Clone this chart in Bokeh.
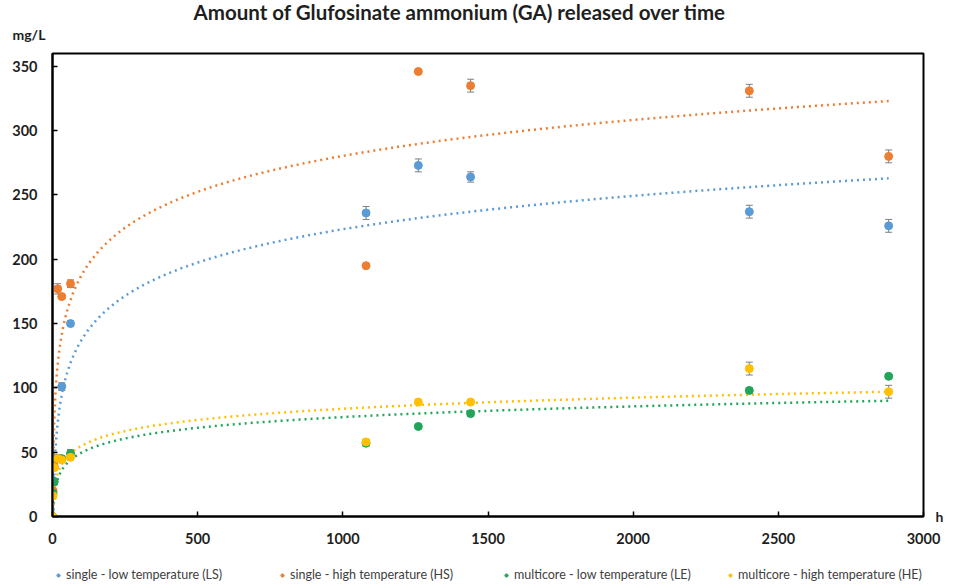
import numpy as np
from bokeh.plotting import figure
from bokeh.layouts import column
from bokeh.models import (Range1d, Whisker, TeeHead, ColumnDataSource, Title,
                          Legend, LegendItem, FixedTicker, LinearAxis)
from bokeh.embed import file_html
from bokeh.resources import INLINE

# ---- data ----
hours = [0, 2, 6, 18, 32, 62, 1080, 1260, 1440, 2400, 2880]

ls_vals = [0, 28, 43, 45, 101, 150, 236, 273, 264, 237, 226]
ls_err = [0, 1, 2, 2, 3, 2, 5, 5, 4, 5, 5]
hs_vals = [0, 20, 39, 177, 171, 181, 195, 346, 335, 331, 280]
hs_err = [0, 1, 2, 4, 1, 3, 0, 0, 5, 5, 5]
le_vals = [0, 18, 27, 45, 45, 49, 57, 70, 80, 98, 109]
le_err = [0, 1, 1, 2, 2, 3, 2, 1, 2, 2, 1]
he_vals = [0, 16, 38, 45, 44, 46, 58, 89, 89, 115, 97]
he_err = [0, 1, 2, 3, 2, 2, 2, 2, 2, 5, 5]

series_names = ["single - low temperature (LS)", "single - high temperature (HS)",
                "multicore - low temperature (LE)", "multicore - high temperature (HE)"]
series_colors = ["#5B9BD5", "#ED7D31", "#22A55A", "#FFC000"]
series_vals = [ls_vals, hs_vals, le_vals, he_vals]
series_errs = [ls_err, hs_err, le_err, he_err]

# logarithmic trendline coefficients y = a*ln(x) + b
trend_a = [37.4, 40.3, 12.0, 12.5]
trend_b = [-35.0, 2.0, -5.6, -2.6]

x_ticks = [0, 500, 1000, 1500, 2000, 2500, 3000]
y_ticks = [0, 50, 100, 150, 200, 250, 300, 350]

title_text = "Amount of Glufosinate ammonium (GA) released over time"
y_unit = "mg/L"
x_unit = "h"

FONT = "Lato"
TXT = "#1f1f1f"

p = figure(width=946, height=560, x_range=Range1d(0, 3000), y_range=Range1d(0, 360),
           output_backend="svg", toolbar_location=None,
           min_border_left=52, min_border_right=14, min_border_top=53, min_border_bottom=44)
p.xgrid.visible = False
p.ygrid.visible = False
p.outline_line_color = "black"
p.outline_line_width = 2
p.outline_line_alpha = 1
p.background_fill_color = "white"
p.border_fill_color = "white"

for ax, ticks in ((p.xaxis, x_ticks), (p.yaxis, y_ticks)):
    ax.ticker = FixedTicker(ticks=ticks)
    ax.axis_line_color = "black"
    ax.axis_line_width = 2
    ax.major_tick_line_color = "black"
    ax.major_tick_line_width = 1.5
    ax.major_tick_in = 5
    ax.major_tick_out = 0
    ax.minor_tick_line_color = None
    ax.major_label_text_font = FONT
    ax.major_label_text_font_style = "bold"
    ax.major_label_text_font_size = "14.5px"
    ax.major_label_text_color = TXT
p.xaxis.major_label_standoff = 16
p.yaxis.major_label_standoff = 15

# unit of the time axis, shown at the right end of the x axis
p.extra_y_ranges = {"unit": Range1d(0, 360)}
h_axis = LinearAxis(y_range_name="unit", ticker=FixedTicker(ticks=[0]),
                    major_label_overrides={0: x_unit}, axis_line_color=None,
                    major_tick_line_color=None, minor_tick_line_color=None,
                    major_label_standoff=6, major_label_text_font=FONT,
                    major_label_text_font_style="bold", major_label_text_font_size="14px",
                    major_label_text_color=TXT)
p.add_layout(h_axis, "right")

# titles (first added is nearest to the frame)
p.add_layout(Title(text=y_unit, align="left", offset=-40, standoff=21, text_font=FONT,
                   text_font_style="bold", text_font_size="14px", text_color=TXT), "above")
p.add_layout(Title(text=title_text, align="left", offset=141, standoff=-21, text_font=FONT,
                   text_font_style="bold", text_font_size="20.5px", text_color=TXT), "above")

# trendlines
t_grid = np.geomspace(2.5, 2880, 400)
for a, b, c in zip(trend_a, trend_b, series_colors):
    p.line(t_grid, a * np.log(t_grid) + b, line_color=c, line_width=2.5, line_dash="2 4")

# error bars and markers
for vals, errs, c in zip(series_vals, series_errs, series_colors):
    src = ColumnDataSource(dict(x=hours, y=vals,
                                lo=[v - e for v, e in zip(vals, errs)],
                                hi=[v + e for v, e in zip(vals, errs)]))
    w = Whisker(source=src, base="x", lower="lo", upper="hi", line_color="#7f7f7f", line_width=1,
                upper_head=TeeHead(size=7, line_color="#7f7f7f", line_width=1),
                lower_head=TeeHead(size=7, line_color="#7f7f7f", line_width=1))
    p.add_layout(w)
    p.scatter("x", "y", source=src, size=8, fill_color=c, line_color=c)

# legend strip below the chart (its swatch renderers sit outside the visible range)
lg = figure(width=946, height=27, x_range=Range1d(0, 1), y_range=Range1d(0, 1),
            output_backend="svg", toolbar_location=None, min_border=0)
lg.axis.visible = False
lg.grid.visible = False
lg.outline_line_color = None
leg_renderers = [lg.scatter(x=[-5], y=[-5], size=6, fill_color=c, line_color=c) for c in series_colors]
legend = Legend(items=[LegendItem(label=n, renderers=[r]) for n, r in zip(series_names, leg_renderers)],
                orientation="horizontal", location=(0, 3),
                label_text_font=FONT, label_text_font_size="12.5px", label_text_color="#404040",
                glyph_width=8, glyph_height=8, label_standoff=4, spacing=12, label_width=200,
                border_line_alpha=0, background_fill_alpha=0, padding=2, margin=0)
lg.add_layout(legend)

layout = column(p, lg, spacing=0)
open("out.html", "w").write(file_html(layout, INLINE))
